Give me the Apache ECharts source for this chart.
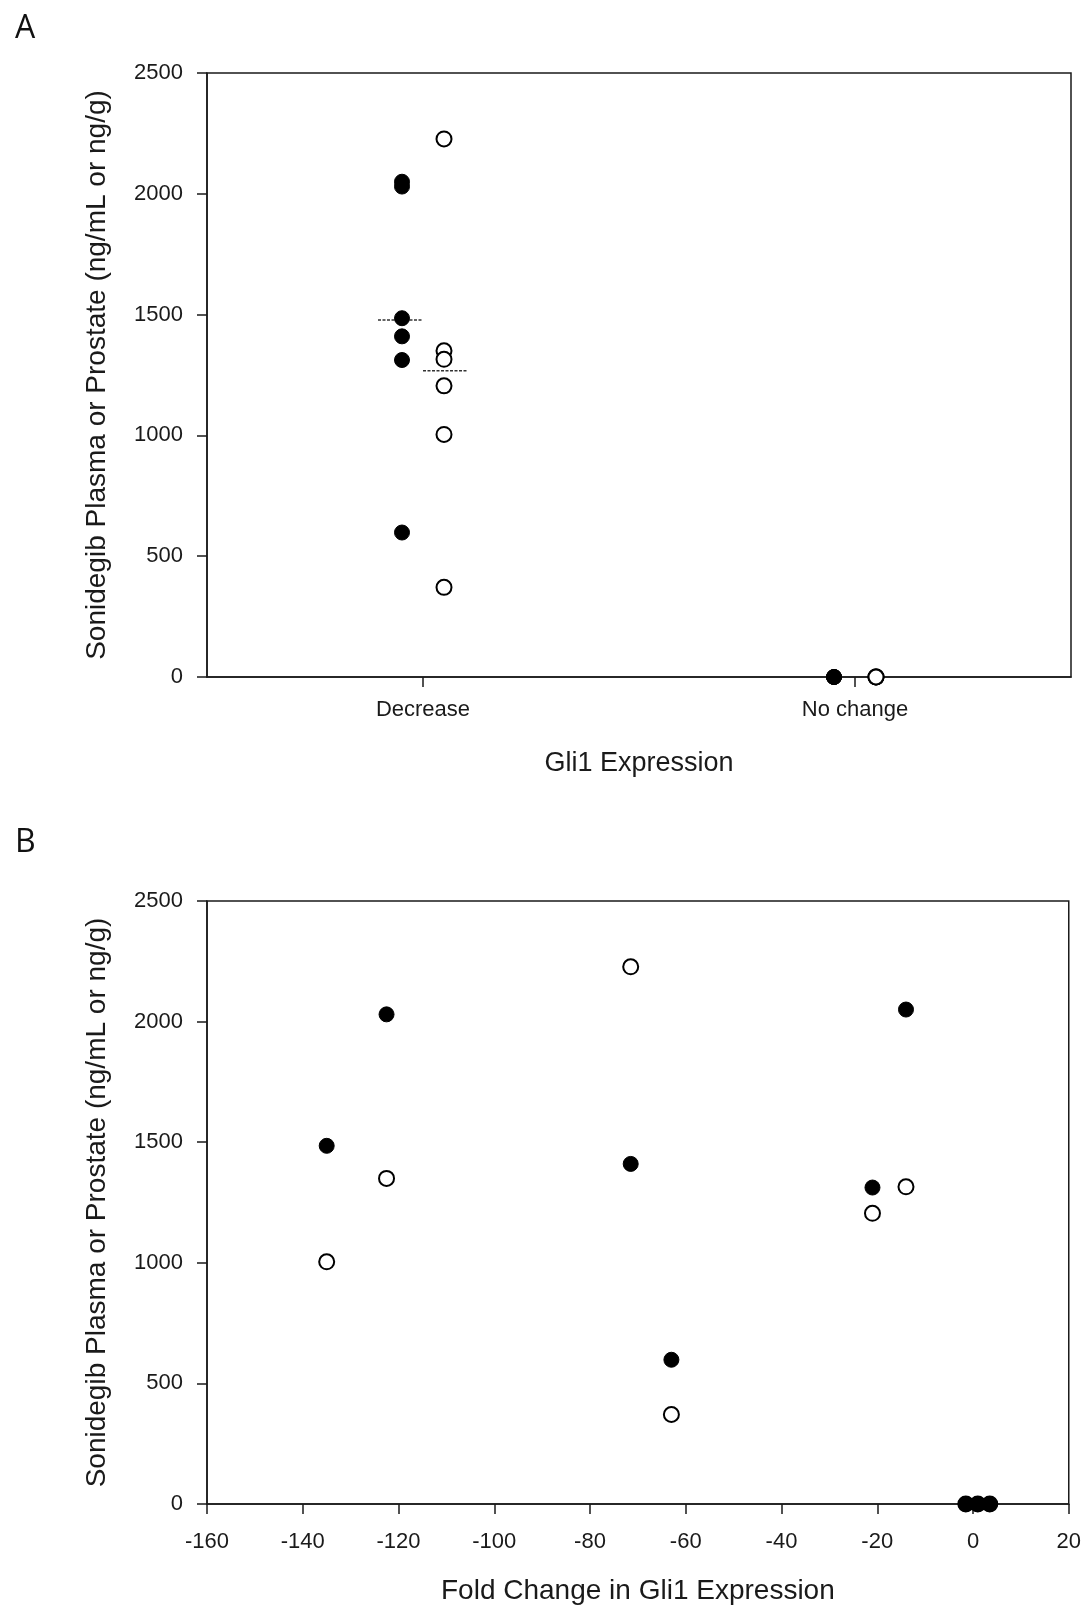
<!DOCTYPE html>
<html>
<head>
<meta charset="utf-8">
<title>Sonidegib vs Gli1</title>
<script src="https://cdn.jsdelivr.net/npm/echarts@6/dist/echarts.min.js"></script>
<style>
  html, body { margin: 0; padding: 0; background: #fff; }
</style>
</head>
<body>
<div id="main" style="width: 1084px; height: 1606px;"></div>
<script type="text/javascript">
// categories of Gli1 response (panel A)
var gli1Categories = ['Decrease', 'No change'];
// one entry per animal: response group, fold change, plasma and prostate levels
var gli1Group  = ['Decrease', 'Decrease', 'Decrease', 'Decrease', 'Decrease', 'Decrease', 'No change', 'No change', 'No change'];
var foldChange = [-135, -122.5, -71.5, -63, -21, -14, -1.5, 1, 3.5];
var plasma     = [1485, 2030, 1410, 598, 1312, 2050, 0, 0, 0];
var prostate   = [1004, 1350, 2227, 371, 1205, 1315, 0, 0, 0];
// dashed group lines shown in panel A (Decrease group)
var plasmaLine   = 1478;
var prostateLine = 1268;
// axis ticks
var yTicks = [0, 500, 1000, 1500, 2000, 2500];
var xTicksB = [-160, -140, -120, -100, -80, -60, -40, -20, 0, 20];

var font = "'Liberation Sans', Arial, sans-serif";
var ink = '#1a1a1a';

function pairs(xs, ys) {
  return xs.map(function (x, i) { return [x, ys[i]]; });
}

function plain(v) { return String(v); }

var filledStyle = { color: '#000', borderColor: '#000', borderWidth: 1, opacity: 1 };
var openStyle = { color: '#fff', borderColor: '#000', borderWidth: 2, opacity: 1 };

function yAxisFor(gridIndex) {
  return {
    gridIndex: gridIndex,
    type: 'value',
    min: yTicks[0],
    max: yTicks[yTicks.length - 1],
    interval: yTicks[1] - yTicks[0],
    name: 'Sonidegib Plasma or Prostate (ng/mL or ng/g)',
    nameLocation: 'middle',
    nameGap: 96,
    nameTextStyle: { fontFamily: font, fontSize: 28, color: ink },
    axisLine: { show: true, onZero: false, lineStyle: { color: ink, width: 1.5 } },
    axisTick: { show: true, length: 10, lineStyle: { color: ink, width: 1.5 } },
    axisLabel: { margin: 24, fontFamily: font, fontSize: 22, color: ink, formatter: plain },
    splitLine: { show: false }
  };
}

function meanLine(side) {
  return function (params, api) {
    var p = api.coord([api.value(0), api.value(1)]);
    var x1 = side < 0 ? p[0] - 45 : p[0];
    var x2 = side < 0 ? p[0] : p[0] + 45;
    return {
      type: 'line',
      shape: { x1: x1, y1: p[1], x2: x2, y2: p[1] },
      style: { stroke: '#333', lineWidth: 1.5, lineDash: [3, 1.5] }
    };
  };
}

var myChart = echarts.init(document.getElementById('main'), null, { renderer: 'canvas' });
myChart.setOption({
  backgroundColor: '#fff',
  animation: false,
  title: [
    { text: 'A', left: 10, top: 8, textStyle: { fontFamily: "'Open Sans', sans-serif", fontSize: 32, fontWeight: 'normal', color: '#111' } },
    { text: 'B', left: 10, top: 822, textStyle: { fontFamily: "'Open Sans', sans-serif", fontSize: 32, fontWeight: 'normal', color: '#111' } }
  ],
  grid: [
    { left: 207, right: 13, top: 73, height: 604, show: true, borderColor: ink, borderWidth: 1.5, backgroundColor: 'transparent' },
    { left: 207, right: 14, top: 901, height: 603, show: true, borderColor: ink, borderWidth: 1.5, backgroundColor: 'transparent' }
  ],
  xAxis: [
    {
      gridIndex: 0,
      type: 'category',
      data: gli1Categories,
      boundaryGap: true,
      name: 'Gli1 Expression',
      nameLocation: 'middle',
      nameGap: 73,
      nameTextStyle: { fontFamily: font, fontSize: 27, color: ink },
      axisLine: { show: true, onZero: false, lineStyle: { color: ink, width: 1.5 } },
      axisTick: { show: true, alignWithLabel: true, length: 10, lineStyle: { color: ink, width: 1.5 } },
      axisLabel: { margin: 22, fontFamily: font, fontSize: 22, color: ink },
      splitLine: { show: false }
    },
    {
      gridIndex: 1,
      type: 'value',
      min: xTicksB[0],
      max: xTicksB[xTicksB.length - 1],
      interval: xTicksB[1] - xTicksB[0],
      name: 'Fold Change in Gli1 Expression',
      nameLocation: 'middle',
      nameGap: 73,
      nameTextStyle: { fontFamily: font, fontSize: 28, color: ink },
      axisLine: { show: true, onZero: false, lineStyle: { color: ink, width: 1.5 } },
      axisTick: { show: true, length: 10, lineStyle: { color: ink, width: 1.5 } },
      axisLabel: { margin: 27, fontFamily: font, fontSize: 22, color: ink, formatter: plain },
      splitLine: { show: false }
    }
  ],
  yAxis: [yAxisFor(0), yAxisFor(1)],
  series: [
    // panel A
    {
      type: 'custom', xAxisIndex: 0, yAxisIndex: 0, z: 1,
      renderItem: meanLine(-1),
      data: [[gli1Categories[0], plasmaLine]]
    },
    {
      type: 'custom', xAxisIndex: 0, yAxisIndex: 0, z: 1,
      renderItem: meanLine(1),
      data: [[gli1Categories[0], prostateLine]]
    },
    {
      name: 'Prostate', type: 'scatter', xAxisIndex: 0, yAxisIndex: 0, z: 2,
      symbol: 'circle', symbolSize: 15, symbolOffset: [21, 0],
      itemStyle: openStyle,
      data: pairs(gli1Group, prostate)
    },
    {
      name: 'Plasma', type: 'scatter', xAxisIndex: 0, yAxisIndex: 0, z: 3,
      symbol: 'circle', symbolSize: 15, symbolOffset: [-21, 0],
      itemStyle: filledStyle,
      data: pairs(gli1Group, plasma)
    },
    // panel B
    {
      name: 'Prostate', type: 'scatter', xAxisIndex: 1, yAxisIndex: 1, z: 2,
      symbol: 'circle', symbolSize: 15,
      itemStyle: openStyle,
      data: pairs(foldChange, prostate)
    },
    {
      name: 'Plasma', type: 'scatter', xAxisIndex: 1, yAxisIndex: 1, z: 3,
      symbol: 'circle', symbolSize: 15,
      itemStyle: filledStyle,
      data: pairs(foldChange, plasma)
    }
  ]
});
</script>
</body>
</html>
